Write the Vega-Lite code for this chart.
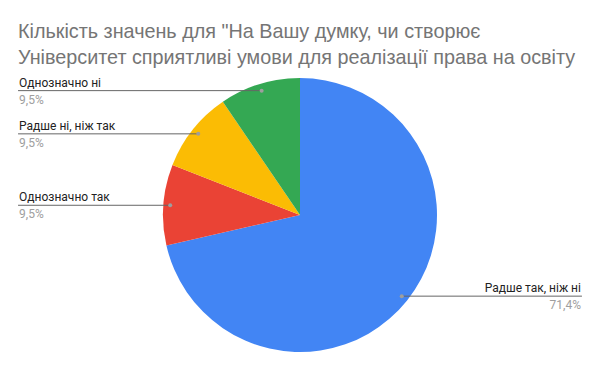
{
  "$schema": "https://vega.github.io/schema/vega-lite/v6.json",
  "width": 600,
  "height": 274,
  "autosize": "none",
  "padding": {"top": 78, "left": 0, "right": 0, "bottom": 19},
  "background": "white",
  "view": {"stroke": null},
  "title": {
    "text": ["Кількість значень для \"На Вашу думку, чи створює", "Університет сприятливі умови для реалізації права на освіту"],
    "anchor": "start",
    "frame": "group",
    "dx": 18,
    "offset": 9,
    "font": "Liberation Sans",
    "fontSize": 19.8,
    "fontWeight": "normal",
    "color": "#757575",
    "lineHeight": 26
  },
  "data": {
    "values": [
      {"answer": "Радше так, ніж ні", "count": 15, "i": 1},
      {"answer": "Однозначно так", "count": 2, "i": 2},
      {"answer": "Радше ні, ніж так", "count": 2, "i": 3},
      {"answer": "Однозначно ні", "count": 2, "i": 4}
    ]
  },
  "transform": [
    {"joinaggregate": [{"op": "sum", "field": "count", "as": "total"}]},
    {"window": [{"op": "sum", "field": "count", "as": "cum"}], "sort": [{"field": "i", "order": "ascending"}], "frame": [null, 0]},
    {"calculate": "2*PI*(datum.cum - datum.count/2)/datum.total", "as": "mid"},
    {"calculate": "0.95*sin(datum.mid)", "as": "px"},
    {"calculate": "0.95*cos(datum.mid)", "as": "py"},
    {"calculate": "datum.px < 0 ? 'left' : 'right'", "as": "side"},
    {"calculate": "datum.px < 0 ? -2.058 : 2.058", "as": "edge"},
    {"calculate": "replace(format(datum.count/datum.total*100, '.1f'), '.', ',') + '%'", "as": "pct"}
  ],
  "layer": [
    {
      "mark": {"type": "arc"},
      "encoding": {
        "theta": {"field": "count", "type": "quantitative", "stack": true},
        "order": {"field": "i", "type": "quantitative"},
        "color": {
          "field": "answer",
          "type": "nominal",
          "scale": {
            "domain": ["Радше так, ніж ні", "Однозначно так", "Радше ні, ніж так", "Однозначно ні"],
            "range": ["#4285F4", "#EA4335", "#FBBC04", "#34A853"]
          },
          "legend": null
        }
      }
    },
    {
      "mark": {"type": "rule", "color": "#666666", "strokeWidth": 1},
      "encoding": {
        "x": {"field": "edge", "type": "quantitative", "scale": {"domain": [-2.1898, 2.1898], "nice": false, "zero": false}, "axis": null},
        "x2": {"field": "px"},
        "y": {"field": "py", "type": "quantitative", "scale": {"domain": [-1, 1], "nice": false, "zero": false}, "axis": null}
      }
    },
    {
      "mark": {"type": "point", "filled": true, "color": "#9e9e9e", "size": 16, "opacity": 1},
      "encoding": {
        "x": {"field": "px", "type": "quantitative"},
        "y": {"field": "py", "type": "quantitative"}
      }
    },
    {
      "transform": [{"filter": "datum.side == 'left'"}],
      "layer": [
        {
          "mark": {"type": "text", "align": "left", "baseline": "alphabetic", "dx": 1, "dy": -4, "font": "Roboto", "fontSize": 12, "color": "#222222"},
          "encoding": {
            "x": {"field": "edge", "type": "quantitative"},
            "y": {"field": "py", "type": "quantitative"},
            "text": {"field": "answer"}
          }
        },
        {
          "mark": {"type": "text", "align": "left", "baseline": "alphabetic", "dx": 1, "dy": 13, "font": "Roboto", "fontSize": 12, "color": "#9e9e9e"},
          "encoding": {
            "x": {"field": "edge", "type": "quantitative"},
            "y": {"field": "py", "type": "quantitative"},
            "text": {"field": "pct"}
          }
        }
      ]
    },
    {
      "transform": [{"filter": "datum.side == 'right'"}],
      "layer": [
        {
          "mark": {"type": "text", "align": "right", "baseline": "alphabetic", "dx": -1, "dy": -4, "font": "Roboto", "fontSize": 12, "color": "#222222"},
          "encoding": {
            "x": {"field": "edge", "type": "quantitative"},
            "y": {"field": "py", "type": "quantitative"},
            "text": {"field": "answer"}
          }
        },
        {
          "mark": {"type": "text", "align": "right", "baseline": "alphabetic", "dx": -1, "dy": 13, "font": "Roboto", "fontSize": 12, "color": "#9e9e9e"},
          "encoding": {
            "x": {"field": "edge", "type": "quantitative"},
            "y": {"field": "py", "type": "quantitative"},
            "text": {"field": "pct"}
          }
        }
      ]
    }
  ]
}
